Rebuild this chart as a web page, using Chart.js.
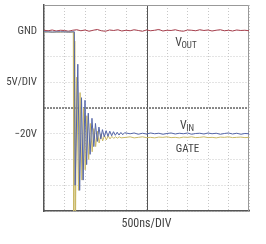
<!DOCTYPE html>
<html>
<head>
<meta charset="utf-8">
<script src="https://cdn.jsdelivr.net/npm/chart.js@4"></script>
<style>
body { margin: 0; background: #fff; }
canvas { display: block; }
</style>
</head>
<body>
<canvas id="scope" width="266" height="244"></canvas>
<script>
// time in ns, volts at 5V/DIV
var voutTime = [0,100,200,300,400,500,600,700,800,900,1000,1100,1200,1300,1400,1500,1600,1700,1800,1900,2000,2100,2200,2300,2400,2500,2600,2700,2800,2900,3000,3100,3200,3300,3400,3500,3600,3700,3800,3900,4000,4100,4200,4300,4400,4500,4600,4700,4800,4900,5000];
var voutVolts = [0.1,0,0.15,-0.05,0.1,0.05,-0.1,0.1,0.2,0,0.15,-0.1,0.1,0.25,0,-0.1,0.15,0.05,0.2,-0.05,0.1,0,0.2,0.05,-0.1,0.15,0,0.1,0.25,-0.05,0.1,0.05,0.2,0,-0.1,0.15,0.1,0,0.2,0.05,0.15,-0.05,0.1,0.2,0,0.1,-0.05,0.15,0.05,0.1,0];

var vinTime = [0,200,400,600,740,760,825,870,915,955,1000,1040,1080,1125,1170,1215,1255,1300,1340,1385,1425,1470,1515,1560,1605,1650,1695,1740,1785,1830,1875,1920,1965,2100,2200,2300,2400,2500,2600,2700,2800,2900,3000,3100,3200,3300,3400,3500,3600,3700,3800,3900,4000,4100,4200,4300,4400,4500,4600,4700,4800,4900,5000];
var vinVolts = [-0.2,-0.25,-0.2,-0.25,-0.2,-30,-6.5,-31,-13,-29,-13.5,-26,-16,-24,-17,-22.5,-18,-21.5,-18.7,-21,-19.2,-20.6,-19.4,-20.5,-19.5,-20.4,-19.6,-20.3,-19.7,-20.25,-19.75,-20.2,-19.8,-20.0,-19.85,-20.1,-19.9,-20.05,-19.85,-20.0,-19.9,-20.1,-19.95,-19.85,-20.05,-19.9,-20.0,-19.85,-20.1,-19.95,-19.9,-20.05,-19.85,-20.0,-19.9,-20.1,-19.95,-19.85,-20.05,-19.9,-20.1,-19.95,-20.0];

var gateTime = [0,100,200,300,400,500,600,715,725,750,770,800,840,880,925,965,1005,1045,1090,1130,1175,1215,1260,1300,1345,1390,1430,1475,1520,1565,1610,1655,1700,1745,1790,1835,1880,2000,2100,2200,2300,2400,2500,2600,2700,2800,2900,3000,3100,3200,3300,3400,3500,3600,3700,3800,3900,4000,4100,4200,4300,4400,4500,4600,4700,4800,4900,5000];
var gateVolts = [-0.3,-0.2,-0.3,-0.25,-0.3,-0.2,-0.3,-0.25,-35,-2,-35,-9,-31,-12,-29,-15,-27,-16.5,-25,-18,-23.5,-19,-22.5,-19.5,-21.8,-20,-21.4,-20.3,-21.2,-20.4,-21.0,-20.5,-20.9,-20.6,-20.85,-20.6,-20.8,-20.7,-20.6,-20.8,-20.7,-20.6,-20.75,-20.7,-20.8,-20.65,-20.7,-20.6,-20.75,-20.7,-20.8,-20.65,-20.7,-20.6,-20.75,-20.7,-20.6,-20.75,-20.7,-20.8,-20.65,-20.7,-20.6,-20.75,-20.7,-20.65,-20.75,-20.7];

var yLabels = { "0": "GND", "-10": "5V/DIV", "-20": "\u221220V" };
var textFont = "'Liberation Sans Narrow', 'Roboto Condensed', Arial, sans-serif";
var textColor = "#444";

function points(t, v) {
    return t.map(function (x, i) { return { x: x, y: v[i] }; });
}

// center cross, frame edges and trace names
var scopePlugin = {
    id: "scopeDecor",
    beforeDatasetsDraw: function (chart) {
        var ctx = chart.ctx, a = chart.chartArea;
        var cx = chart.scales.x.getPixelForValue(2500);
        var cy = chart.scales.y.getPixelForValue(-15);
        ctx.save();
        ctx.strokeStyle = "#555";
        ctx.lineWidth = 1;
        ctx.beginPath();
        ctx.moveTo(Math.round(cx) + 0.5, a.top);
        ctx.lineTo(Math.round(cx) + 0.5, a.bottom);
        ctx.stroke();
        ctx.strokeStyle = "#666";
        ctx.setLineDash([2, 1]);
        ctx.lineWidth = 1.5;
        ctx.beginPath();
        ctx.moveTo(a.left, cy);
        ctx.lineTo(a.right, cy);
        ctx.stroke();
        ctx.setLineDash([]);
        ctx.strokeStyle = "#999";
        ctx.lineWidth = 1;
        ctx.beginPath();
        ctx.moveTo(a.left, a.top + 0.5);
        ctx.lineTo(a.right - 0.5, a.top + 0.5);
        ctx.lineTo(a.right - 0.5, a.bottom);
        ctx.stroke();
        ctx.restore();
    },
    afterDraw: function (chart) {
        var ctx = chart.ctx, x = chart.scales.x, y = chart.scales.y;
        ctx.save();
        ctx.fillStyle = textColor;
        ctx.textBaseline = "alphabetic";
        function sub(main, small, tx, ty) {
            ctx.font = "12px " + textFont;
            ctx.textAlign = "left";
            ctx.fillText(main, tx, ty);
            var w = ctx.measureText(main).width;
            ctx.font = "9px " + textFont;
            ctx.fillText(small, tx + w - 0.5, ty + 1.5);
        }
        sub("V", "OUT", x.getPixelForValue(3200), y.getPixelForValue(-3));
        sub("V", "IN", x.getPixelForValue(3320), y.getPixelForValue(-19.1));
        ctx.font = "11px " + textFont;
        ctx.textAlign = "center";
        ctx.fillText("GATE", x.getPixelForValue(3500), y.getPixelForValue(-23.5));
        ctx.restore();
    }
};

var scopeCtx = document.getElementById("scope").getContext("2d");
var scopeChart = new Chart(scopeCtx, {
    type: "line",
    data: {
        datasets: [{
            label: "VIN",
            data: points(vinTime, vinVolts),
            borderColor: "#5566a8",
            borderWidth: 1
        }, {
            label: "GATE",
            data: points(gateTime, gateVolts),
            borderColor: "#c9b866",
            borderWidth: 1
        }, {
            label: "VOUT",
            data: points(voutTime, voutVolts),
            borderColor: "#a8404e",
            borderWidth: 1
        }]
    },
    options: {
        responsive: false,
        animation: false,
        elements: { point: { radius: 0 }, line: { tension: 0 } },
        layout: { padding: { top: 5, right: 17, left: 0, bottom: 0 } },
        plugins: { legend: { display: false }, tooltip: { enabled: false } },
        scales: {
            x: {
                type: "linear",
                min: 0,
                max: 5000,
                ticks: { stepSize: 500, display: false },
                grid: { color: "#c8c8c8", drawTicks: false },
                border: { color: "#555", width: 1.5, dash: [1, 2] },
                title: {
                    display: true,
                    text: "500ns/DIV",
                    color: textColor,
                    font: { family: textFont, size: 12 },
                    padding: { top: 0, bottom: 13 }
                },
                afterFit: function (s) { s.height = 33; s.paddingLeft = 0; s.paddingRight = 0; }
            },
            y: {
                type: "linear",
                min: -35,
                max: 5,
                ticks: {
                    stepSize: 5,
                    padding: 7,
                    color: textColor,
                    font: { family: textFont, size: 11 },
                    callback: function (v) { return yLabels[String(v)] || ""; }
                },
                grid: { color: "#c8c8c8", drawTicks: false },
                border: { color: "#555", width: 1.5, dash: [1, 2] },
                afterFit: function (s) { s.width = 44; s.paddingTop = 0; s.paddingBottom = 0; }
            }
        }
    },
    plugins: [scopePlugin]
});
</script>
</body>
</html>
